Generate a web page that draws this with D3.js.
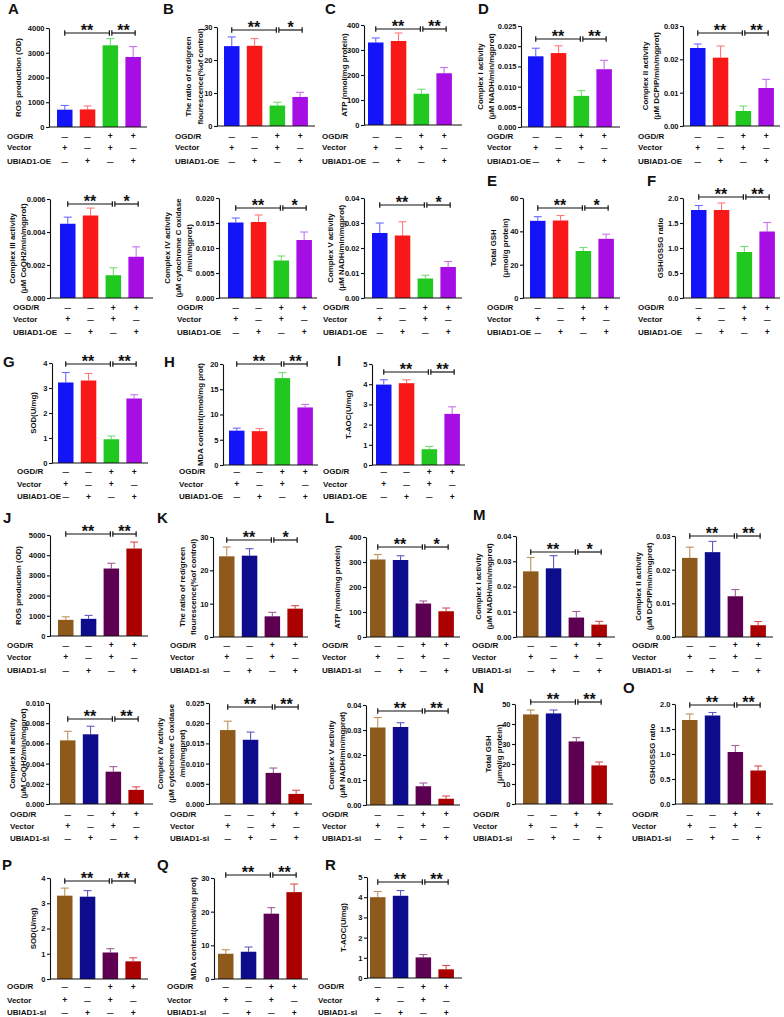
<!DOCTYPE html>
<html><head><meta charset="utf-8">
<script src="https://cdn.jsdelivr.net/npm/d3@7"></script>
<style>
body{margin:0;background:#fff}
text{font-family:"Liberation Sans",Arial,sans-serif;font-weight:bold;fill:#111}
</style>
</head><body>
<svg id="c" width="784" height="1017"></svg>
<script>
// ---------------- DATA ----------------
const groups = ["g1","g2","g3","g4"];
const ogdrSigns = ["—","—","+","+"];
const vectorSigns = ["+","—","+","—"];
const geneSigns = ["—","+","—","+"];
const rowNamesOE = ["OGD/R","Vector","UBIAD1-OE"];
const rowNamesSI = ["OGD/R","Vector","UBIAD1-si"];
const colorsOE = ["#1414f8","#f81818","#20c820","#a60ee4"];
const colorsSI = ["#8e5a1c","#0c0c8c","#5e0052","#aa0000"];
const errOE = ["#6a6aff","#ff7a7a","#74dc74","#c872ee"];
const errSI = ["#c0915a","#5c5cc0","#a0609a","#d85050"];

// UBIAD1 overexpression
const rosOE = [700, 710, 3300, 2830],        rosOESD = [170, 140, 270, 420];
const rosTicks = [0, 1000, 2000, 3000, 4000];
const ratioOE = [24.2, 24.3, 6.2, 8.8],      ratioOESD = [2.8, 2.2, 1.0, 1.4];
const ratioTicks = [0, 10, 20, 30];
const atpOE = [330, 336, 125, 207],          atpOESD = [18, 32, 18, 23];
const atpTicks = [0, 100, 200, 300, 400];
const c1OE = [0.0175, 0.0183, 0.0077, 0.0143], c1OESD = [0.0020, 0.0018, 0.0013, 0.0022];
const c1OETicks = [0, 0.005, 0.010, 0.015, 0.020, 0.025];
const c2OE = [0.0234, 0.0205, 0.0045, 0.0114], c2OESD = [0.0012, 0.0035, 0.0015, 0.0026];
const c2Ticks = [0, 0.01, 0.02, 0.03];
const c3OE = [0.0045, 0.0050, 0.00138, 0.0025], c3OESD = [0.0004, 0.00045, 0.00045, 0.0006];
const c3OETicks = [0, 0.002, 0.004, 0.006];
const c4OE = [0.0151, 0.0152, 0.0075, 0.0116], c4OESD = [0.0009, 0.0014, 0.0009, 0.0016];
const c4OETicks = [0, 0.005, 0.010, 0.015, 0.020];
const c5OE = [0.0260, 0.0250, 0.0078, 0.0124], c5OESD = [0.0040, 0.0055, 0.0013, 0.0022];
const c5Ticks = [0, 0.01, 0.02, 0.03, 0.04];
const gshOE = [46.3, 46.5, 28.2, 35.5],      gshOESD = [2.5, 3.0, 2.1, 2.8];
const gshOETicks = [0, 20, 40, 60];
const gssgOE = [1.76, 1.76, 0.92, 1.33],     gssgOESD = [0.09, 0.14, 0.11, 0.18];
const gssgTicks = [0, 0.5, 1.0, 1.5, 2.0];
const sodOE = [3.22, 3.30, 0.95, 2.58],      sodOESD = [0.40, 0.28, 0.13, 0.15];
const sodTicks = [0, 1, 2, 3, 4];
const mdaOE = [6.8, 6.7, 17.2, 11.4],        mdaOESD = [0.5, 0.5, 1.1, 0.6];
const mdaOETicks = [0, 5, 10, 15, 20];
const taocOE = [3.98, 4.05, 0.78, 2.53],     taocOESD = [0.24, 0.17, 0.14, 0.35];
const taocTicks = [0, 1, 2, 3, 4, 5];

// UBIAD1 knockdown
const rosSI = [800, 850, 3340, 4330],        rosSISD = [150, 170, 260, 320];
const rosSITicks = [0, 1000, 2000, 3000, 4000, 5000];
const ratioSI = [24.2, 24.4, 6.2, 8.5],      ratioSISD = [2.8, 2.1, 1.2, 0.9];
const atpSI = [310, 308, 134, 103],          atpSISD = [20, 17, 10, 13];
const c1SI = [0.0260, 0.0272, 0.0077, 0.0049], c1SISD = [0.0055, 0.0050, 0.0024, 0.0013];
const c1SITicks = [0, 0.01, 0.02, 0.03, 0.04];
const c2SI = [0.0235, 0.0252, 0.0121, 0.0035], c2SISD = [0.0032, 0.0032, 0.0020, 0.0011];
const c3SI = [0.0063, 0.0069, 0.0032, 0.0014], c3SISD = [0.0009, 0.0008, 0.0005, 0.0003];
const c3SITicks = [0, 0.002, 0.004, 0.006, 0.008, 0.010];
const c4SI = [0.0183, 0.0159, 0.0077, 0.0025], c4SISD = [0.0022, 0.0019, 0.0012, 0.0009];
const c4SITicks = [0, 0.005, 0.010, 0.015, 0.020, 0.025];
const c5SI = [0.0310, 0.0312, 0.0075, 0.0025], c5SISD = [0.0040, 0.0017, 0.0013, 0.0011];
const gshSI = [44.8, 45.3, 31.3, 19.3],      gshSISD = [2.2, 1.7, 1.9, 1.7];
const gshSITicks = [0, 10, 20, 30, 40, 50];
const gssgSI = [1.68, 1.77, 1.04, 0.67],     gssgSISD = [0.12, 0.06, 0.13, 0.09];
const sodSI = [3.30, 3.26, 1.05, 0.70],      sodSISD = [0.30, 0.24, 0.15, 0.14];
const mdaSI = [7.5, 8.1, 19.4, 25.8],        mdaSISD = [1.2, 1.4, 1.8, 2.4];
const mdaSITicks = [0, 10, 20, 30];
const taocSI = [4.00, 4.07, 1.02, 0.43],     taocSISD = [0.28, 0.26, 0.14, 0.19];

const titleROS = ["ROS production (OD)"];
const titleRatio = ["The ratio of red/green", "flourescence(%of control)"];
const titleATP = ["ATP (nmol/mg protein)"];
const titleC1 = ["Complex I activity", "(μM NADH/min/mgprot)"];
const titleC2 = ["Complex II activity", "(μM DCPIP/min/mgprot)"];
const titleC3 = ["Complex III activity", "(μM CoQH2/min/mgprot)"];
const titleC4 = ["Complex IV activity", "(μM cytochrome C oxidase", "/min/mgprot)"];
const titleC5 = ["Complex V activity", "(μM NADH/min/mgprot)"];
const titleGSH = ["Total GSH", "(μmol/g protein)"];
const titleGSSG = ["GSH/GSSG ratio"];
const titleSOD = ["SOD(U/mg)"];
const titleMDA = ["MDA content(nmol/mg prot)"];
const titleTAOC = ["T-AOC(U/mg)"];

const panels = [
  {letter:"A", set:"OE", v:rosOE, sd:rosOESD, ticks:rosTicks, fmt:"d", title:titleROS, sig:["**","**"]},
  {letter:"B", set:"OE", v:ratioOE, sd:ratioOESD, ticks:ratioTicks, fmt:"d", title:titleRatio, sig:["**","*"]},
  {letter:"C", set:"OE", v:atpOE, sd:atpOESD, ticks:atpTicks, fmt:"d", title:titleATP, sig:["**","**"]},
  {letter:"D", set:"OE", v:c1OE, sd:c1OESD, ticks:c1OETicks, fmt:".3f", title:titleC1, sig:["**","**"]},
  {letter:"",  set:"OE", v:c2OE, sd:c2OESD, ticks:c2Ticks, fmt:".2f", title:titleC2, sig:["**","**"]},
  {letter:"",  set:"OE", v:c3OE, sd:c3OESD, ticks:c3OETicks, fmt:".3f", title:titleC3, sig:["**","*"]},
  {letter:"",  set:"OE", v:c4OE, sd:c4OESD, ticks:c4OETicks, fmt:".3f", title:titleC4, sig:["**","*"]},
  {letter:"",  set:"OE", v:c5OE, sd:c5OESD, ticks:c5Ticks, fmt:".2f", title:titleC5, sig:["**","*"]},
  {letter:"E", set:"OE", v:gshOE, sd:gshOESD, ticks:gshOETicks, fmt:"d", title:titleGSH, sig:["**","*"]},
  {letter:"F", set:"OE", v:gssgOE, sd:gssgOESD, ticks:gssgTicks, fmt:".1f", title:titleGSSG, sig:["**","**"]},
  {letter:"G", set:"OE", v:sodOE, sd:sodOESD, ticks:sodTicks, fmt:"d", title:titleSOD, sig:["**","**"]},
  {letter:"H", set:"OE", v:mdaOE, sd:mdaOESD, ticks:mdaOETicks, fmt:"d", title:titleMDA, sig:["**","**"]},
  {letter:"I", set:"OE", v:taocOE, sd:taocOESD, ticks:taocTicks, fmt:"d", title:titleTAOC, sig:["**","**"]},
  {letter:"J", set:"SI", v:rosSI, sd:rosSISD, ticks:rosSITicks, fmt:"d", title:titleROS, sig:["**","**"]},
  {letter:"K", set:"SI", v:ratioSI, sd:ratioSISD, ticks:ratioTicks, fmt:"d", title:titleRatio, sig:["**","*"]},
  {letter:"L", set:"SI", v:atpSI, sd:atpSISD, ticks:atpTicks, fmt:"d", title:titleATP, sig:["**","*"]},
  {letter:"M", set:"SI", v:c1SI, sd:c1SISD, ticks:c1SITicks, fmt:".2f", title:titleC1, sig:["**","*"]},
  {letter:"",  set:"SI", v:c2SI, sd:c2SISD, ticks:c2Ticks, fmt:".2f", title:titleC2, sig:["**","**"]},
  {letter:"",  set:"SI", v:c3SI, sd:c3SISD, ticks:c3SITicks, fmt:".3f", title:titleC3, sig:["**","**"]},
  {letter:"",  set:"SI", v:c4SI, sd:c4SISD, ticks:c4SITicks, fmt:".3f", title:titleC4, sig:["**","**"]},
  {letter:"",  set:"SI", v:c5SI, sd:c5SISD, ticks:c5Ticks, fmt:".2f", title:titleC5, sig:["**","**"]},
  {letter:"N", set:"SI", v:gshSI, sd:gshSISD, ticks:gshSITicks, fmt:"d", title:titleGSH, sig:["**","**"]},
  {letter:"O", set:"SI", v:gssgSI, sd:gssgSISD, ticks:gssgTicks, fmt:".1f", title:titleGSSG, sig:["**","**"]},
  {letter:"P", set:"SI", v:sodSI, sd:sodSISD, ticks:sodTicks, fmt:"d", title:titleSOD, sig:["**","**"]},
  {letter:"Q", set:"SI", v:mdaSI, sd:mdaSISD, ticks:mdaSITicks, fmt:"d", title:titleMDA, sig:["**","**"]},
  {letter:"R", set:"SI", v:taocSI, sd:taocSISD, ticks:taocTicks, fmt:"d", title:titleTAOC, sig:["**","**"]}
];

// ---------------- LAYOUT ----------------
const rowYs = [[136,147.5,161],[307.5,319,332],[471.5,484,496.5],[645,657,670.5],[814,826,838],[986.5,1000,1012.5]];
const layout = [
  {row:0, x0:49,  xEnd:147, bx:57,  yTop:28,  y0:127, brY:33,  tx:[18],          rx:7,   lx:8,   ly:14},
  {row:0, x0:217, xEnd:315, bx:224, yTop:27,  y0:126, brY:30,  tx:[188,200],     rx:175, lx:163, ly:14},
  {row:0, x0:364, xEnd:462, bx:368, yTop:25,  y0:125, brY:29,  tx:[344],         rx:322, lx:325, ly:14},
  {row:0, x0:521, xEnd:620, bx:528, yTop:26,  y0:127, brY:39,  tx:[480,491],     rx:487, lx:478, ly:14},
  {row:0, x0:683, xEnd:780, bx:690, yTop:26,  y0:126, brY:33,  tx:[645,656],     rx:638, lx:0,   ly:0},
  {row:1, x0:50,  xEnd:153, bx:60,  yTop:199, y0:298, brY:204, tx:[12,23],       rx:13,  lx:0,   ly:0},
  {row:1, x0:219, xEnd:317, bx:228, yTop:198, y0:298, brY:208, tx:[167,178,189], rx:177, lx:0,   ly:0},
  {row:1, x0:364, xEnd:462, bx:372, yTop:198, y0:298, brY:205, tx:[330,341],     rx:323, lx:0,   ly:0},
  {row:1, x0:523, xEnd:620, bx:530, yTop:198, y0:298, brY:208, tx:[493,505],     rx:487, lx:487, ly:186},
  {row:1, x0:683, xEnd:780, bx:691, yTop:198, y0:298, brY:197, tx:[660],         rx:638, lx:647, ly:186},
  {row:2, x0:52,  xEnd:148, bx:58,  yTop:363, y0:463, brY:364, tx:[33],          rx:17,  lx:3,   ly:367},
  {row:2, x0:223, xEnd:318, bx:229, yTop:364, y0:465, brY:364, tx:[200],         rx:179, lx:164, ly:367},
  {row:2, x0:372, xEnd:465, bx:376, yTop:364, y0:465, brY:372, tx:[348],         rx:323, lx:337, ly:366},
  {row:3, x0:50,  xEnd:148, bx:58,  yTop:535, y0:636, brY:534, tx:[18],          rx:7,   lx:3,   ly:523},
  {row:3, x0:213, xEnd:308, bx:219, yTop:537, y0:637, brY:540, tx:[182,193],     rx:170, lx:157, ly:523},
  {row:3, x0:366, xEnd:460, bx:370, yTop:537, y0:637, brY:547, tx:[337],         rx:322, lx:325, ly:523},
  {row:3, x0:516, xEnd:615, bx:523, yTop:536, y0:637, brY:552, tx:[478,489],     rx:472, lx:473, ly:520},
  {row:3, x0:675, xEnd:773, bx:682, yTop:536, y0:637, brY:536, tx:[638,649],     rx:632, lx:0,   ly:0},
  {row:4, x0:49,  xEnd:153, bx:60,  yTop:703, y0:804, brY:719, tx:[12,23],       rx:10,  lx:0,   ly:0},
  {row:4, x0:209, xEnd:312, bx:220, yTop:703, y0:804, brY:707, tx:[160,171,182], rx:170, lx:0,   ly:0},
  {row:4, x0:366, xEnd:460, bx:370, yTop:705, y0:805, brY:711, tx:[331,342],     rx:322, lx:0,   ly:0},
  {row:4, x0:515, xEnd:613, bx:523, yTop:704, y0:804, brY:702, tx:[488,499],     rx:473, lx:473, ly:693},
  {row:4, x0:675, xEnd:773, bx:682, yTop:704, y0:804, brY:705, tx:[652],         rx:632, lx:623, ly:693},
  {row:5, x0:50,  xEnd:148, bx:57,  yTop:878, y0:979, brY:881, tx:[33],          rx:7,   lx:2,   ly:870},
  {row:5, x0:214, xEnd:308, bx:218, yTop:878, y0:979, brY:875, tx:[193],         rx:167, lx:157, ly:870},
  {row:5, x0:367, xEnd:462, bx:370, yTop:877, y0:978, brY:882, tx:[343],         rx:318, lx:325, ly:870}
];

const STEP = 22.8, PIN = 0.32;
const svg = d3.select("#c");

panels.forEach((p, i) => {
  const L = layout[i];
  const g = svg.append("g");
  const colors = p.set === "OE" ? colorsOE : colorsSI;
  const ecolors = p.set === "OE" ? errOE : errSI;
  const rowNames = p.set === "OE" ? rowNamesOE : rowNamesSI;
  const y = d3.scaleLinear().domain([0, p.ticks[p.ticks.length - 1]]).range([L.y0, L.yTop]);
  const r0 = L.bx - STEP * PIN / 2;
  const x = d3.scaleBand().domain(groups).range([r0, r0 + 4 * STEP]).paddingInner(PIN).paddingOuter(PIN / 2);
  const bw = x.bandwidth();
  const cx = k => x(groups[k]) + bw / 2;

  // error bars
  p.v.forEach((v, k) => {
    const top = y(v + p.sd[k]);
    g.append("line").attr("x1", cx(k)).attr("x2", cx(k)).attr("y1", y(v)).attr("y2", top)
      .attr("stroke", ecolors[k]).attr("stroke-width", 1.1);
    g.append("line").attr("x1", cx(k) - 4).attr("x2", cx(k) + 4).attr("y1", top).attr("y2", top)
      .attr("stroke", ecolors[k]).attr("stroke-width", 1.1);
  });
  // bars
  g.selectAll("rect.bar").data(p.v).join("rect").attr("class", "bar")
    .attr("x", (d, k) => x(groups[k])).attr("y", d => y(d))
    .attr("width", bw).attr("height", d => L.y0 - y(d))
    .attr("fill", (d, k) => colors[k]);

  // y axis
  const ax = g.append("g").attr("transform", `translate(${L.x0},0)`)
    .call(d3.axisLeft(y).tickValues(p.ticks).tickFormat(d3.format(p.fmt)).tickSize(3).tickSizeOuter(0).tickPadding(1.5));
  ax.select(".domain").attr("stroke", "#111").attr("stroke-width", 1.1);
  ax.selectAll(".tick line").attr("stroke", "#111").attr("stroke-width", 1.1);
  ax.selectAll(".tick text").attr("font-size", 7.5).attr("font-family", "Liberation Sans, Arial").attr("font-weight", "bold").attr("fill", "#111");
  // x axis line
  g.append("line").attr("x1", L.x0).attr("x2", L.xEnd).attr("y1", L.y0).attr("y2", L.y0)
    .attr("stroke", "#111").attr("stroke-width", 1.1);

  // significance brackets
  const pairs = [[cx(0), cx(2) - 1], [cx(2) + 1.5, cx(3) + 2]];
  pairs.forEach((pr, j) => {
    g.append("line").attr("x1", pr[0]).attr("x2", pr[1]).attr("y1", L.brY).attr("y2", L.brY).attr("stroke", "#111").attr("stroke-width", 1.2);
    [pr[0], pr[1]].forEach(xx => g.append("line").attr("x1", xx).attr("x2", xx).attr("y1", L.brY - 2.8).attr("y2", L.brY + 2.8).attr("stroke", "#111").attr("stroke-width", 1.2));
    g.append("text").attr("x", (pr[0] + pr[1]) / 2).attr("y", L.brY + 2.5).attr("text-anchor", "middle")
      .attr("font-size", 16).text(p.sig[j]);
  });

  // y title
  const ymid = (L.y0 + L.yTop) / 2;
  p.title.forEach((t, j) => {
    g.append("text").attr("transform", `translate(${L.tx[j]},${ymid}) rotate(-90)`)
      .attr("text-anchor", "middle").attr("dominant-baseline", "central").attr("font-size", 7.8).text(t);
  });

  // row labels and signs
  const signRows = [ogdrSigns, vectorSigns, geneSigns];
  rowNames.forEach((name, r) => {
    const yy = rowYs[L.row][r];
    g.append("text").attr("x", L.rx).attr("y", yy).attr("dominant-baseline", "central").attr("font-size", 8).text(name);
    signRows[r].forEach((s, k) => {
      g.append("text").attr("x", cx(k)).attr("y", yy).attr("text-anchor", "middle").attr("dominant-baseline", "central")
        .attr("font-size", s === "+" ? 8.5 : 6.5).text(s);
    });
  });

  // panel letter
  if (p.letter) {
    g.append("text").attr("x", L.lx).attr("y", L.ly).attr("font-size", 15).text(p.letter);
  }
});
</script>
</body></html>
